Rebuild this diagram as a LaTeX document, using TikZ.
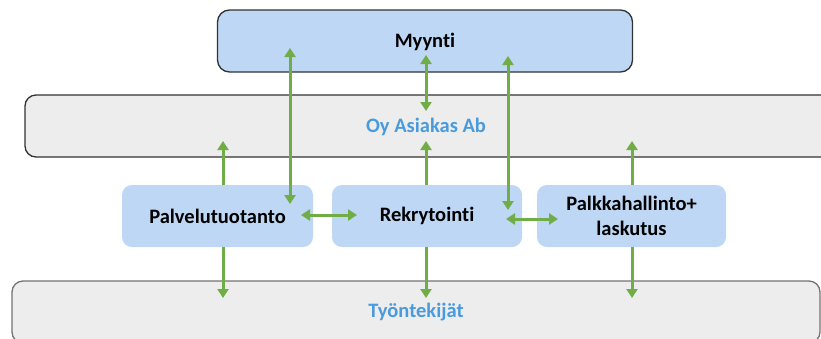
\documentclass[tikz,border=0pt]{standalone}
\usepackage{fontspec}
\setmainfont{Carlito}[Ligatures=NoCommon]
\usetikzlibrary{arrows.meta}
\definecolor{boxblue}{RGB}{189,215,245}
\definecolor{bandgray}{RGB}{237,237,237}
\definecolor{arrgreen}{RGB}{112,173,71}
\definecolor{labblue}{RGB}{74,155,222}
\definecolor{edgedark}{RGB}{50,50,50}
\tikzset{
  band/.style={draw=edgedark, line width=1.3pt, fill=bandgray, rounded corners=11pt, minimum height=62pt, inner sep=0pt},
  inbox/.style={fill=boxblue, rounded corners=10pt, minimum height=62pt, inner sep=0pt, align=center,
    font=\fontsize{20.5}{25}\selectfont\bfseries, text=black},
  bandlabel/.style={font=\fontsize{20.5}{25}\selectfont\bfseries, text=labblue, inner sep=0pt},
  arr/.style={draw=arrgreen, line width=3pt, -{Triangle[length=9pt,width=11pt]}},
  arrboth/.style={draw=arrgreen, line width=3pt, {Triangle[length=9pt,width=11pt]}-{Triangle[length=9pt,width=11pt]}},
}
\begin{document}
\begin{tikzpicture}[x=1pt,y=-1pt]
\useasboundingbox (0,0) rectangle (821,338);
\clip (0,0) rectangle (821,338);
% bands
\node[band, minimum width=820pt] (top) at (435,126) {};
\node[bandlabel] (toplab) at (426,127) {Oy Asiakas Ab};
\node[band, draw=gray!90!black, minimum width=808pt] (bot) at (416,312) {};
\node[bandlabel] (botlab) at (416,312) {Työntekijät};
% Myynti
\node[inbox, draw=edgedark, line width=1.3pt, minimum width=415pt, rounded corners=12pt] (myy) at (425,41) {};
\node[font=\fontsize{20.5}{25}\selectfont\bfseries, inner sep=0pt] (myylab) at (425,42) {Myynti};
% inner boxes
\node[inbox, minimum width=191pt] (pal) at (217.5,216) {Palvelutuotanto};
\node[inbox, minimum width=190pt] (rek) at (427,216) {Rekrytointi};
\node[inbox, minimum width=189pt] (palk) at (631.5,216) {Palkkahallinto+\\laskutus};
% arrow endpoints
\coordinate (a1s) at (223,185); \coordinate (a1e) at (223,141);
\coordinate (a2s) at (290,48);  \coordinate (a2e) at (290,204);
\coordinate (a3s) at (426,55);  \coordinate (a3e) at (426,111);
\coordinate (a4s) at (426,185); \coordinate (a4e) at (426,141);
\coordinate (a5s) at (508,56);  \coordinate (a5e) at (508,210);
\coordinate (a6s) at (632,185); \coordinate (a6e) at (632,141);
\coordinate (h1s) at (301,215); \coordinate (h1e) at (357,215);
\coordinate (h2s) at (506,219); \coordinate (h2e) at (558,219);
\coordinate (b1s) at (223,247); \coordinate (b1e) at (223,298);
\coordinate (b2s) at (426,247); \coordinate (b2e) at (426,298);
\coordinate (b3s) at (632,247); \coordinate (b3e) at (632,298);
% arrows
\draw[arr] (a1s) -- (a1e);
\draw[arrboth] (a2s) -- (a2e);
\draw[arrboth] (a3s) -- (a3e);
\draw[arr] (a4s) -- (a4e);
\draw[arrboth] (a5s) -- (a5e);
\draw[arr] (a6s) -- (a6e);
\draw[arrboth] (h1s) -- (h1e);
\draw[arrboth] (h2s) -- (h2e);
\draw[arr] (b1s) -- (b1e);
\draw[arr] (b2s) -- (b2e);
\draw[arr] (b3s) -- (b3e);
\end{tikzpicture}
\end{document}
